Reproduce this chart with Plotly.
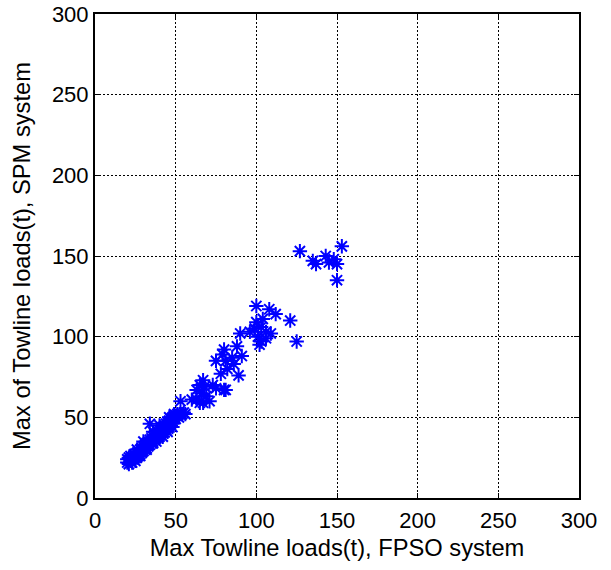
import plotly.graph_objects as go

# dense band, roughly y = x + 2
band_x = [20, 20, 21, 21, 22, 22, 23, 23, 24, 24, 25, 25, 26, 26, 27, 27, 28, 28, 29, 29,
          30, 30, 31, 31, 32, 32, 33, 33, 34, 34, 35, 35, 36, 36, 37, 37, 38, 38, 39, 39,
          40, 40, 41, 41, 42, 42, 43, 43, 44, 44, 45, 45, 46, 46, 47, 47, 48, 48, 49, 50,
          51, 52, 34, 42, 45, 48, 38, 26, 30, 28, 32, 36, 40, 44, 47, 50, 53, 55, 36, 40, 46]
band_y = [22, 24, 21, 25, 23, 26, 22, 25, 24, 27, 23, 26, 25, 28, 26, 29, 27, 30, 28, 31,
          29, 32, 30, 33, 31, 34, 32, 35, 33, 36, 34, 37, 35, 38, 36, 39, 37, 40, 38, 41,
          39, 42, 40, 43, 41, 44, 42, 45, 43, 46, 44, 47, 45, 48, 46, 49, 47, 50, 49, 51,
          52, 50, 46, 38, 41, 44, 35, 30, 35, 26, 30, 34, 38, 42, 45, 49, 52, 53, 41, 45, 50]

# scattered mid and upper loads
mid_x = [54, 56, 49, 53, 60, 65, 71, 73, 81, 67, 65, 68, 63, 75, 80, 66, 69, 63, 67,
         80, 79, 88, 91, 75, 81, 85, 86, 78, 89, 82,
         100, 108, 112, 121, 125, 90, 96, 100, 103, 106, 101, 103, 106, 109, 99, 104, 102,
         127, 135, 137, 143, 145, 148, 150, 153, 150]
mid_y = [52, 52, 52, 60, 61, 59, 60, 70, 67, 73, 70, 69, 67, 68, 67, 65, 63, 61, 59,
         92, 89, 94, 88, 85, 85, 87, 83, 77, 76, 80,
         119, 117, 114, 110, 97, 102, 103, 109, 106, 103, 100, 97, 99, 102, 105, 111, 95,
         153, 147, 145, 150, 146, 148, 145, 156, 135]

fpso = band_x + mid_x
spm = band_y + mid_y

fig = go.Figure(
    go.Scatter(
        x=fpso,
        y=spm,
        mode='markers',
        marker=dict(symbol='asterisk-open', size=12, color='#0000ff',
                    line=dict(color='#0000ff', width=2)),
        showlegend=False
    )
)

axis_style = dict(
    range=[0, 300],
    tickvals=[0, 50, 100, 150, 200, 250, 300],
    ticks='inside',
    ticklen=5,
    tickcolor='black',
    showline=True,
    linecolor='black',
    linewidth=2,
    mirror='ticks',
    showgrid=True,
    gridcolor='black',
    griddash='2px,2px',
    gridwidth=1,
    zeroline=False,
    automargin=False,
    ticklabeloverflow='allow',
    tickfont=dict(size=22, color='black'),
)

fig.update_layout(
    width=611,
    height=570,
    margin=dict(l=95, r=32, t=14, b=72),
    paper_bgcolor='white',
    plot_bgcolor='white',
    font=dict(family='Liberation Sans, Arial, sans-serif', color='black'),
    xaxis=dict(axis_style, ticklabelstandoff=2,
               title=dict(text='Max Towline loads(t), FPSO system',
                          font=dict(size=23.7), standoff=7)),
    yaxis=dict(axis_style, ticklabelstandoff=0,
               title=dict(text='Max of Towline loads(t), SPM system',
                          font=dict(size=23.7), standoff=15)),
)

# drop the default body margin so the figure sits at the page corner
fig.write_html("out.html", config={'displayModeBar': False},
               post_script="document.body.style.margin='0';")
